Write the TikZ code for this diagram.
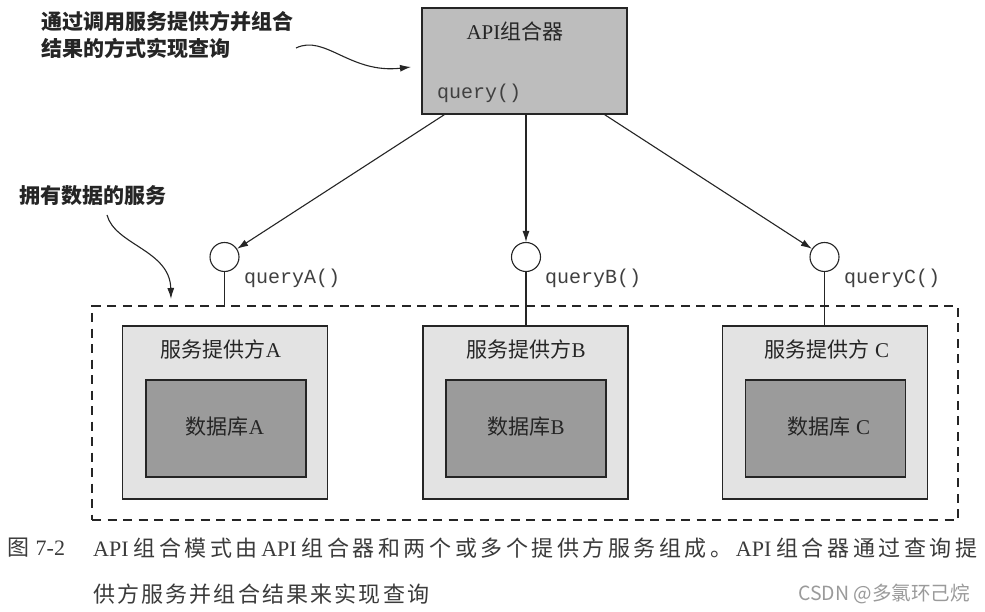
\documentclass[tikz,border=0pt]{standalone}
\usepackage{fontspec}
\setmainfont{Liberation Serif}
\setmonofont{Liberation Mono}
\newfontfamily\cjk{Noto Sans CJK SC}
\usetikzlibrary{arrows.meta,calc}
\definecolor{apigray}{HTML}{BDBDBD}
\definecolor{provgray}{HTML}{E3E3E3}
\definecolor{dbgray}{HTML}{9B9B9B}
\definecolor{ink}{HTML}{252525}
\definecolor{monoink}{HTML}{404040}
\definecolor{wmgray}{HTML}{9A9A9A}
\newcommand{\zhs}[1]{{\cjk #1}}
\makeatletter
\def\sprd#1{\sprd@#1\sprd@end}
\def\sprd@#1{\ifx#1\sprd@end\else#1\hskip0pt plus 1fil\relax\expandafter\sprd@\fi}
\makeatother
\begin{document}
\begin{tikzpicture}[x=1pt,y=-1pt,
  box/.style={draw=ink, line width=1.4pt, rectangle, inner sep=0pt},
  apibox/.style={box, fill=apigray, minimum width=205, minimum height=106},
  provbox/.style={box, fill=provgray, minimum width=205, minimum height=173},
  dbbox/.style={box, fill=dbgray, minimum width=160, minimum height=97},
  owner/.style={draw=ink, line width=1.2pt, dash pattern=on 9pt off 6.5pt, rectangle, inner sep=0pt, minimum width=866, minimum height=214},
  port/.style={circle, draw=ink, line width=1.1pt, fill=white, minimum size=29, inner sep=0pt},
  boxtext/.style={text=ink, inner sep=0pt, font=\fontsize{21}{25}\selectfont},
  monotext/.style={text=monoink, inner sep=0pt, anchor=west, font=\ttfamily\fontsize{20}{24}\selectfont},
  notetext/.style={text=ink, inner sep=0pt, anchor=west, align=left, font=\cjk\bfseries\fontsize{21}{27.5}\selectfont},
  captext/.style={text=ink!90, inner sep=0pt, anchor=west, font=\fontsize{22}{26}\selectfont},
  arr/.style={draw=ink, line width=1.1pt, -{Latex[length=11pt,width=7pt]}},
  conn/.style={draw=ink, line width=1.1pt}
]
\path[use as bounding box, fill=white] (0,0) rectangle (985,612);

% API composer
\node[apibox] (api) at (524.5,61) {};
\node[boxtext] (apititle) at (515,31) {API\zhs{组合器}};
\node[monotext] (apiq) at (437,93) {query()};

% owning boundary
\node[owner] (owned) at (525,413) {};

% providers
\node[provbox] (pA) at (225,412.5) {};
\node[provbox] (pB) at (525.5,412.5) {};
\node[provbox] (pC) at (825,412.5) {};
\node[dbbox] (dA) at (226,428.5) {};
\node[dbbox] (dB) at (526,428.5) {};
\node[dbbox] (dC) at (825.5,428.5) {};
\node[boxtext] (tA) at (221,349) {\zhs{服务提供方}A};
\node[boxtext] (tB) at (526,349) {\zhs{服务提供方}B};
\node[boxtext] (tC) at (827,349) {\zhs{服务提供方} C};
\node[boxtext] (lA) at (225,427) {\zhs{数据库}A};
\node[boxtext] (lB) at (526,427) {\zhs{数据库}B};
\node[boxtext] (lC) at (829,427) {\zhs{数据库} C};

% ports
\node[port] (cA) at (224.5,257) {};
\node[port] (cB) at (526,257) {};
\node[port] (cC) at (824.5,257) {};
\node[monotext] (qA) at (244,278) {queryA()};
\node[monotext] (qB) at (545,278) {queryB()};
\node[monotext] (qC) at (844,278) {queryC()};

% connectors
\draw[arr] ($(api.south west)+(23,0)$) -- (cA);
\draw[arr] (api.south -| cB) -- (cB);
\draw[arr] ($(api.south east)+(-23,0)$) -- (cC);
\draw[conn] (cA.south) -- (cA.south |- owned.north);
\draw[conn] (cB.south) -- (cB.south |- pB.north);
\draw[conn] (cC.south) -- (cC.south |- pC.north);

% annotations
\node[notetext] (note1) at (41.5,35) {通过调用服务提供方并组合\\结果的方式实现查询};
\node[notetext] (note2) at (19.5,196) {拥有数据的服务};
\coordinate (n1s) at (296,48);
\coordinate (n1e) at (411,67);
\coordinate (n2s) at (107,215);
\coordinate (n2e) at (171,299);
\draw[arr] (n1s) .. controls (325,34) and (350,74) .. (n1e);
\draw[arr] (n2s) .. controls (115,245) and (170,250) .. (n2e);

% caption
\node[captext] (fig) at (7.5,548) {\zhs{图}\hspace{6pt}7-2};
\node[captext] (cap1) at (93,548) {\makebox[884pt][s]{API\hspace{5pt}\zhs{\sprd{组合模式由}}API\hspace{5pt}\zhs{\sprd{组合器和两个或多个提供方服务组成。}}API\hspace{5pt}\zhs{\sprd{组合器通过查询提}}\unskip}};
\node[captext] (cap2) at (93,594) {\makebox[336pt][s]{\zhs{\sprd{供方服务并组合结果来实现查询}}\unskip}};
\node[text=wmgray, inner sep=0pt, anchor=east, font=\cjk\fontsize{19.5}{23}\selectfont] (wm) at (970,594) {CSDN @多氯环己烷};
\end{tikzpicture}
\end{document}
